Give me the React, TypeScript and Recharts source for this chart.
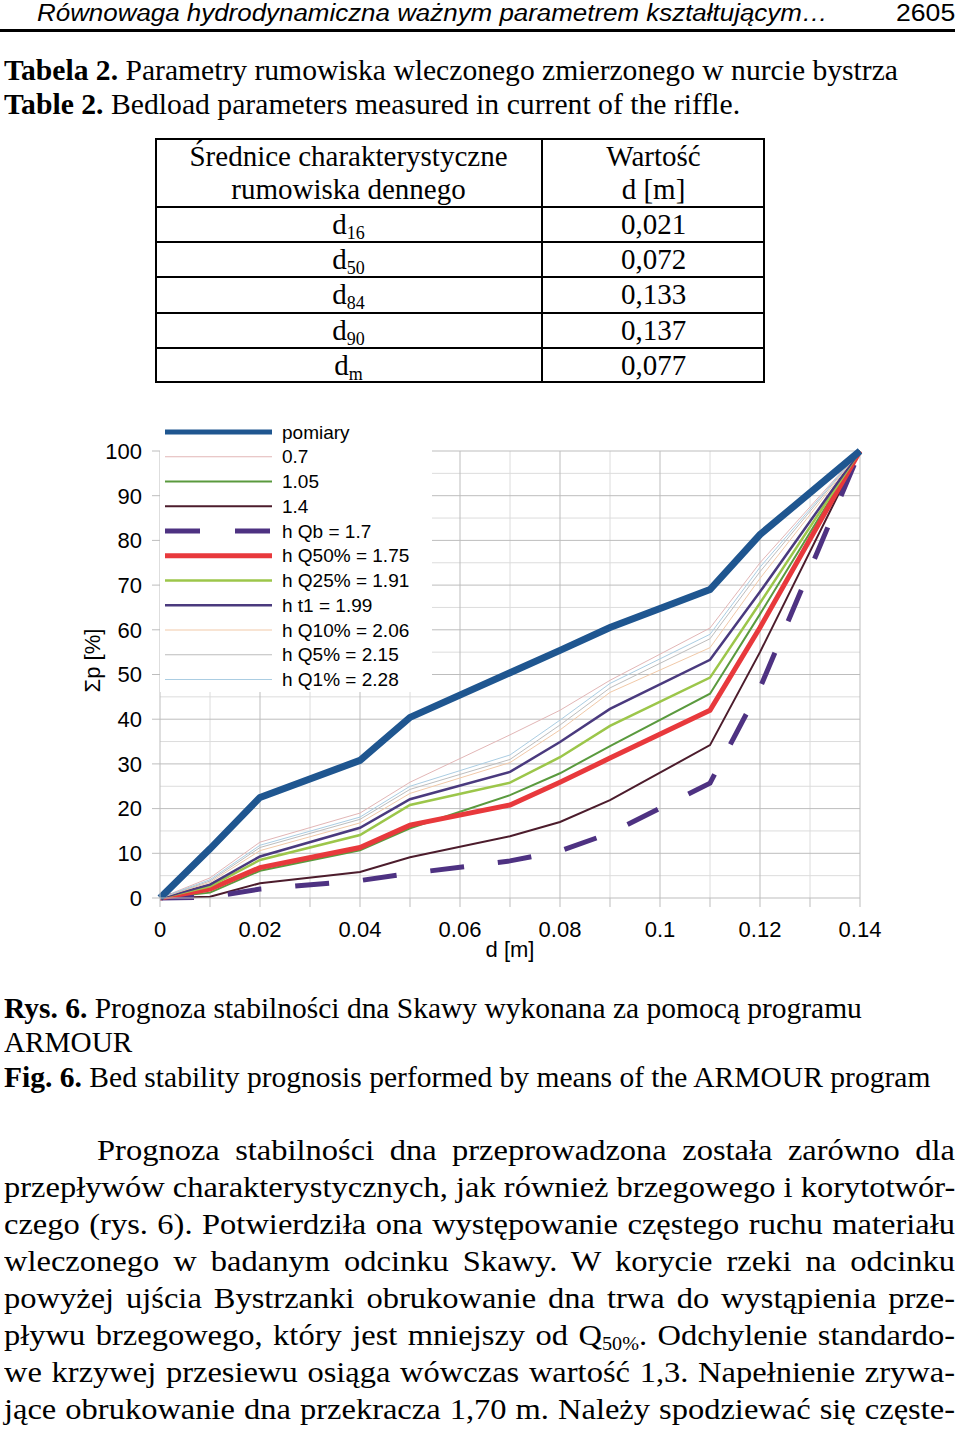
import { useLayoutEffect, useRef, useState } from "react";
import type { ReactNode } from "react";
import { LineChart, Line, XAxis, YAxis, ReferenceLine, Legend } from "recharts";

// grain diameters d [m] at which the sieve curves were read
const diameters = [0, 0.01, 0.02, 0.04, 0.05, 0.07, 0.08, 0.09, 0.11, 0.12, 0.14];

// cumulative percentage Σp [%]
const pomiary = [0, 11, 22.5, 30.8, 40.4, 50.4, 55.4, 60.5, 69, 81.3, 100];
const h070 = [0, 4.5, 12.5, 19, 25.9, 36.5, 42, 48.7, 60.4, 75, 100];
const h105 = [0, 1.2, 6.1, 10.7, 15.6, 23, 27.9, 34, 45.7, 63.5, 100];
const h140 = [0, 0.3, 3.3, 5.8, 9.1, 13.8, 17, 21.9, 34.2, 55, 100];
const hQb = [0, 0.2, 2, 3.9, 5.5, 8.3, 10.5, 14.5, 25.7, 47, 100];
const hQ50 = [0, 2, 6.8, 11.3, 16.3, 20.8, 25.9, 31.3, 42, 60.5, 100];
const hQ25 = [0, 2.6, 8.5, 14.1, 20.8, 25.8, 31.5, 38.5, 49.3, 66, 100];
const ht1 = [0, 3, 9.3, 15.7, 22.1, 28.2, 34.9, 42.3, 53.3, 68.5, 100];
const hQ10 = [0, 3.5, 10.6, 16.8, 23.4, 30.3, 37.6, 46, 56, 71.5, 100];
const hQ5 = [0, 3.8, 11.3, 17.6, 24.3, 31, 38.7, 47, 58, 73, 100];
const hQ1 = [0, 4.1, 11.8, 18.1, 25, 32, 39.8, 48, 59, 74, 100];

const xTicks = [0, 0.01, 0.02, 0.03, 0.04, 0.05, 0.06, 0.07, 0.08, 0.09, 0.1, 0.11, 0.12, 0.13, 0.14];
const xTickLabels = ["0", "", "0.02", "", "0.04", "", "0.06", "", "0.08", "", "0.1", "", "0.12", "", "0.14"];
const yTicks = [0, 10, 20, 30, 40, 50, 60, 70, 80, 90, 100];
const yMinor = [5, 15, 25, 35, 45, 55, 65, 75, 85, 95];
const xMinor = [0.01, 0.03, 0.05, 0.07, 0.09, 0.11, 0.13];
const xMajor = [0.02, 0.04, 0.06, 0.08, 0.1, 0.12, 0.14];
const yMajor = [10, 20, 30, 40, 50, 60, 70, 80, 90, 100];

const tableSymbols = ["16", "50", "84", "90", "m"];
const tableValues = ["0,021", "0,072", "0,133", "0,137", "0,077"];

const paragraph = [
  "Prognoza stabilności dna przeprowadzona została zarówno dla",
  "przepływów charakterystycznych, jak również brzegowego i korytotwór-",
  "czego (rys. 6). Potwierdziła ona występowanie częstego ruchu materiału",
  "wleczonego w badanym odcinku Skawy. W korycie rzeki na odcinku",
  "powyżej ujścia Bystrzanki obrukowanie dna trwa do wystąpienia prze-",
  "pływu brzegowego, który jest mniejszy od Q|50%|. Odchylenie standardo-",
  "we krzywej przesiewu osiąga wówczas wartość 1,3. Napełnienie zrywa-",
  "jące obrukowanie dna przekracza 1,70 m. Należy spodziewać się częste-",
];

const series = [
  { key: "pomiary", name: "pomiary", values: pomiary, color: "#1F5690", width: 7 },
  { key: "h070", name: "0.7", values: h070, color: "#E2B6B6", width: 1 },
  { key: "h105", name: "1.05", values: h105, color: "#5A9A3E", width: 2 },
  { key: "h140", name: "1.4", values: h140, color: "#4C1C2C", width: 2 },
  { key: "hQb", name: "h Qb = 1.7", values: hQb, color: "#4E3282", width: 5, dash: "34 34" },
  { key: "hQ50", name: "h Q50% = 1.75", values: hQ50, color: "#E8393C", width: 5 },
  { key: "hQ25", name: "h Q25% = 1.91", values: hQ25, color: "#9CC64A", width: 2.5 },
  { key: "ht1", name: "h t1 = 1.99", values: ht1, color: "#4A3A7E", width: 2.5 },
  { key: "hQ10", name: "h Q10% = 2.06", values: hQ10, color: "#F1C9A8", width: 1 },
  { key: "hQ5", name: "h Q5% = 2.15", values: hQ5, color: "#BDBDBD", width: 1 },
  { key: "hQ1", name: "h Q1% = 2.28", values: hQ1, color: "#ABCDE2", width: 1 },
];

const chartData = diameters.map((d, i) => {
  const row: Record<string, number> = { d };
  series.forEach((s) => (row[s.key] = s.values[i]));
  return row;
});

// pomiary is drawn last so it sits on top, like in the original
const drawOrder = [...series.slice(1), series[0]];

const SERIF = "'Liberation Serif', 'Times New Roman', serif";
const SANS = "'Liberation Sans', Arial, sans-serif";

function Fit({ x, y, w, size, family = SERIF, italic, children }: {
  x: number; y: number; w: number; size: number; family?: string; italic?: boolean; children: ReactNode;
}) {
  const ref = useRef<HTMLSpanElement>(null);
  const [k, setK] = useState(1);
  useLayoutEffect(() => {
    if (ref.current) setK(w / ref.current.offsetWidth);
  }, [w]);
  return (
    <span
      ref={ref}
      style={{
        position: "absolute",
        left: x,
        top: y - size * 0.5,
        fontSize: size,
        lineHeight: `${size}px`,
        fontFamily: family,
        fontStyle: italic ? "italic" : "normal",
        whiteSpace: "nowrap",
        transform: `scaleX(${k})`,
        transformOrigin: "0 0",
      }}
    >
      {children}
    </span>
  );
}

function withSub(text: string) {
  const parts = text.split("|");
  return parts.map((p, i) =>
    i % 2 === 1 ? (
      <sub key={i} style={{ fontSize: "0.62em", verticalAlign: "-0.25em", lineHeight: 0 }}>{p}</sub>
    ) : (
      <span key={i}>{p}</span>
    ),
  );
}

function Paragraph({ top, step, size }: { top: number; step: number; size: number }) {
  const refs = useRef<(HTMLSpanElement | null)[]>([]);
  const [k, setK] = useState(1);
  const lefts = paragraph.map((_, i) => (i === 0 ? 97 : 4));
  const right = 955;
  useLayoutEffect(() => {
    let best = 10;
    refs.current.forEach((el, i) => {
      if (el) best = Math.min(best, (right - lefts[i]) / el.offsetWidth);
    });
    setK(best);
  }, []);
  return (
    <>
      {paragraph.map((line, i) => (
        <div
          key={i}
          style={{
            position: "absolute",
            left: lefts[i],
            top: top + i * step - size * 0.5,
            width: (right - lefts[i]) / k,
            fontSize: size,
            lineHeight: `${size}px`,
            fontFamily: SERIF,
            textAlign: "justify",
            textAlignLast: "justify",
            whiteSpace: "nowrap",
            transform: `scaleX(${k})`,
            transformOrigin: "0 0",
          }}
        >
          <span ref={(el) => { refs.current[i] = el; }} style={{ visibility: "hidden", position: "absolute" }}>
            {withSub(line)}
          </span>
          {withSub(line)}
        </div>
      ))}
    </>
  );
}

function ChartLegend() {
  const rowH = 24.75;
  return (
    <svg width={272} height={272} style={{ display: "block", background: "#fff" }}>
      {series.map((s, i) => (
        <g key={s.key}>
          <line
            x1={5}
            x2={112}
            y1={12 + i * rowH}
            y2={12 + i * rowH}
            stroke={s.color}
            strokeWidth={s.key === "pomiary" ? 5 : s.width}
            strokeDasharray={s.dash ? "35 35" : undefined}
          />
          <text x={122} y={12 + i * rowH} dominantBaseline="central" fontSize={19} fontFamily={SANS} fill="#000">
            {s.name}
          </text>
        </g>
      ))}
    </svg>
  );
}

function Chart() {
  return (
    <div style={{ position: "absolute", left: 60, top: 410 }}>
      <LineChart width={860} height={560} data={chartData} margin={{ top: 41, right: 60, bottom: 42, left: 40 }}>
        {xMinor.map((v) => (
          <ReferenceLine key={"xm" + v} x={v} stroke="#DCDCDC" strokeWidth={1} />
        ))}
        {yMinor.map((v) => (
          <ReferenceLine key={"ym" + v} y={v} stroke="#DCDCDC" strokeWidth={1} />
        ))}
        {xMajor.map((v) => (
          <ReferenceLine key={"xM" + v} x={v} stroke="#BDBDBD" strokeWidth={1} />
        ))}
        {yMajor.map((v) => (
          <ReferenceLine key={"yM" + v} y={v} stroke="#BDBDBD" strokeWidth={1} />
        ))}
        <XAxis
          dataKey="d"
          type="number"
          domain={[0, 0.14]}
          ticks={xTicks}
          interval={0}
          tickFormatter={(_v, i) => xTickLabels[i]}
          tick={{ fontSize: 22, fontFamily: SANS, fill: "#000" }}
          tickSize={9}
          tickMargin={14}
          stroke="#BDBDBD"
          height={30}
          label={{ value: "d [m]", position: "bottom", offset: 13, fontSize: 22, fontFamily: SANS, fill: "#000" }}
        />
        <YAxis
          type="number"
          domain={[0, 100]}
          ticks={yTicks}
          interval={0}
          width={60}
          tick={{ fontSize: 22, fontFamily: SANS, fill: "#000" }}
          tickSize={8}
          tickMargin={10}
          stroke="#BDBDBD"
          label={{
            content: ({ viewBox }: any) => {
              const cx = (viewBox?.x ?? 40) - 8;
              const cy = (viewBox?.y ?? 41) + (viewBox?.height ?? 446) / 2 - 14;
              return (
                <text
                  x={cx}
                  y={cy}
                  transform={`rotate(-90 ${cx} ${cy})`}
                  textAnchor="middle"
                  dominantBaseline="central"
                  fontSize={22}
                  fontFamily={SANS}
                  fill="#000"
                >
                  Σp [%]
                </text>
              );
            },
          }}
        />
        <Legend
          layout="horizontal"
          verticalAlign="middle"
          align="center"
          wrapperStyle={{ left: 100, top: 10, width: 272, height: 272 }}
          content={() => <ChartLegend />}
        />
        {drawOrder.map((s) => (
          <Line
            key={s.key}
            type="linear"
            dataKey={s.key}
            name={s.name}
            stroke={s.color}
            strokeWidth={s.width}
            strokeDasharray={s.dash}
            dot={false}
            activeDot={false}
            isAnimationActive={false}
          />
        ))}
      </LineChart>
    </div>
  );
}

function Table() {
  const left = 155;
  const top = 138;
  const mid = 542;
  const right = 765;
  const headH = 69;
  const rowH = 35.2;
  const cell = (x: number, w: number, y: number, h: number, content: ReactNode, key: string) => (
    <div
      key={key}
      style={{
        position: "absolute",
        left: x,
        top: y,
        width: w,
        height: h,
        display: "flex",
        alignItems: "center",
        justifyContent: "center",
        fontFamily: SERIF,
        fontSize: 29,
        lineHeight: "33px",
        textAlign: "center",
      }}
    >
      {content}
    </div>
  );
  return (
    <>
      <div
        style={{
          position: "absolute",
          left,
          top,
          width: right - left,
          height: headH + rowH * 5,
          border: "2px solid #000",
          boxSizing: "border-box",
        }}
      />
      <div style={{ position: "absolute", left: mid - 1, top, width: 2, height: headH + rowH * 5, background: "#000" }} />
      {tableSymbols.map((_, i) => (
        <div
          key={"h" + i}
          style={{ position: "absolute", left, top: top + headH + rowH * i - 1, width: right - left, height: 2, background: "#000" }}
        />
      ))}
      {cell(left, mid - left, top, headH, <div>Średnice charakterystyczne<br />rumowiska dennego</div>, "hc1")}
      {cell(mid, right - mid, top, headH, <div>Wartość<br />d [m]</div>, "hc2")}
      {tableSymbols.map((s, i) =>
        cell(
          left,
          mid - left,
          top + headH + rowH * i,
          rowH,
          <span>
            d<sub style={{ fontSize: "0.62em", verticalAlign: "-0.3em", lineHeight: 0 }}>{s}</sub>
          </span>,
          "s" + i,
        ),
      )}
      {tableValues.map((v, i) => cell(mid, right - mid, top + headH + rowH * i, rowH, v, "v" + i))}
    </>
  );
}

export default function App() {
  return (
    <div
      style={{
        position: "absolute",
        left: 0,
        top: 0,
        width: 960,
        height: 1430,
        background: "#fff",
        color: "#000",
        overflow: "hidden",
      }}
    >
      <Fit x={37} y={13} w={791} size={23} family={SANS} italic>
        Równowaga hydrodynamiczna ważnym parametrem kształtującym…
      </Fit>
      <Fit x={896} y={13} w={59} size={23} family={SANS}>
        2605
      </Fit>
      <div style={{ position: "absolute", left: 0, top: 29, width: 955, height: 3, background: "#000" }} />

      <Fit x={4} y={70} w={894} size={29}>
        <b>Tabela 2.</b> Parametry rumowiska wleczonego zmierzonego w nurcie bystrza
      </Fit>
      <Fit x={4} y={104} w={736} size={29}>
        <b>Table 2.</b> Bedload parameters measured in current of the riffle.
      </Fit>

      <Table />
      <Chart />

      <Fit x={4} y={1008} w={858} size={29}>
        <b>Rys. 6.</b> Prognoza stabilności dna Skawy wykonana za pomocą programu
      </Fit>
      <Fit x={4} y={1042} w={128} size={29}>
        ARMOUR
      </Fit>
      <Fit x={4} y={1077} w={926} size={29}>
        <b>Fig. 6.</b> Bed stability prognosis performed by means of the ARMOUR program
      </Fit>

      <Paragraph top={1150} step={37} size={30} />
    </div>
  );
}
